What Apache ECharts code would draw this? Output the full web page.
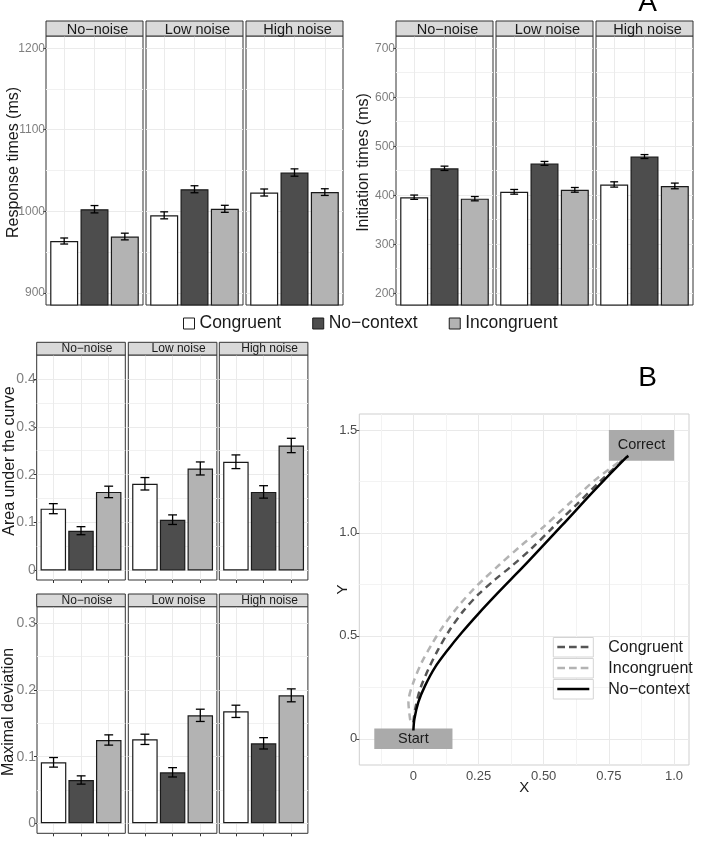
<!DOCTYPE html>
<html><head><meta charset="utf-8">
<script src="https://cdn.jsdelivr.net/npm/echarts@6/dist/echarts.min.js"></script>
<style>html,body{margin:0;padding:0;background:#fff}#c{width:701px;height:846px}</style>
</head><body><div id="c"></div>
<script>
// ---------- DATA ----------
const noiseLevels = ['No−noise', 'Low noise', 'High noise'];
const contexts = ['Congruent', 'No−context', 'Incongruent'];

// Response times (ms) per noise level
const rtCongruent   = [963.5, 995, 1023];
const rtNoContext   = [1002.5, 1027, 1047.5];
const rtIncongruent = [969, 1003, 1023.5];
const rtSeCongruent   = [3.7, 4.3, 4.3];
const rtSeNoContext   = [4.5, 4.3, 4.5];
const rtSeIncongruent = [4.1, 4.3, 4.1];

// Initiation times (ms)
const itCongruent   = [396, 407, 422];
const itNoContext   = [455, 465, 479];
const itIncongruent = [393, 411, 419];
const itSeCongruent   = [4.4, 4.8, 5.4];
const itSeNoContext   = [4.4, 4.0, 4.0];
const itSeIncongruent = [4.4, 4.8, 5.8];

// Area under the curve
const aucCongruent   = [0.129, 0.181, 0.227];
const aucNoContext   = [0.083, 0.106, 0.164];
const aucIncongruent = [0.164, 0.213, 0.261];
const aucSeCongruent   = [0.0105, 0.013, 0.0143];
const aucSeNoContext   = [0.0084, 0.010, 0.013];
const aucSeIncongruent = [0.012, 0.0136, 0.015];

// Maximal deviation
const mdCongruent   = [0.0915, 0.126, 0.168];
const mdNoContext   = [0.065, 0.0765, 0.12];
const mdIncongruent = [0.125, 0.162, 0.192];
const mdSeCongruent   = [0.0072, 0.0077, 0.0092];
const mdSeNoContext   = [0.0062, 0.007, 0.0085];
const mdSeIncongruent = [0.0077, 0.0092, 0.0097];

// Mean trajectories (panel B)
const trajCongruentX   = [0, 0.007, 0.026, 0.058, 0.096, 0.141, 0.192, 0.25, 0.314, 0.378, 0.45, 0.53, 0.62, 0.72, 0.823];
const trajCongruentY   = [0.08, 0.145, 0.242, 0.339, 0.435, 0.532, 0.621, 0.702, 0.774, 0.84, 0.92, 1.02, 1.13, 1.255, 1.376];
const trajIncongruentX = [-0.012, -0.019, 0, 0.032, 0.071, 0.115, 0.173, 0.23, 0.269, 0.33, 0.41, 0.5, 0.6, 0.7, 0.823];
const trajIncongruentY = [0.09, 0.178, 0.274, 0.371, 0.46, 0.548, 0.645, 0.726, 0.774, 0.845, 0.935, 1.03, 1.145, 1.26, 1.376];
const trajNoContextX   = [0, 0.004, 0.019, 0.045, 0.083, 0.134, 0.186, 0.25, 0.314, 0.378, 0.441, 0.57, 0.697, 0.813, 0.825];
const trajNoContextY   = [0.04, 0.097, 0.178, 0.258, 0.347, 0.435, 0.516, 0.608, 0.695, 0.779, 0.862, 1.036, 1.21, 1.362, 1.374];
const trajLegendNames  = ['Congruent', 'Incongruent', 'No−context'];

// Start / Correct boxes (data coordinates)
const targetNames = ['Start', 'Correct'];
const targetX0 = [-0.15, 0.75];
const targetX1 = [0.15, 1.0];
const targetY0 = [-0.05, 1.35];
const targetY1 = [0.05, 1.5];

// Tick labels
const rtTicks  = [900, 1000, 1100, 1200];
const itTicks  = [200, 300, 400, 500, 600, 700];
const aucTicks = [0, 0.1, 0.2, 0.3, 0.4];
const mdTicks  = [0, 0.1, 0.2, 0.3];
const barXTicks = [1, 2, 3];
const trajXTicks = [0, 0.25, 0.5, 0.75, 1.0];
const trajXTickLabels = ['0', '0.25', '0.50', '0.75', '1.0'];
const trajXMinorTicks = [-0.125, 0.125, 0.375, 0.625, 0.875];
const trajYTicks = [0, 0.5, 1.0, 1.5];
const trajYTickLabels = ['0', '0.5', '1.0', '1.5'];

// ---------- STYLE / LAYOUT ----------
const FONT = 'Liberation Sans, Arial, Helvetica, sans-serif';
const barColors = ['#ffffff', '#4d4d4d', '#b3b3b3'];
const rows = [
  {title:'Response times (ms)', means:[rtCongruent, rtNoContext, rtIncongruent], ses:[rtSeCongruent, rtSeNoContext, rtSeIncongruent], ticks:rtTicks,
   lefts:[46,146,246], width:97, top:36, height:269, stripTop:21, stripH:15, min:885, max:1215, splitNumber:3,
   labelSize:12, barW:28, cap:0.13, nameGap:24.5, shift:16, stripFont:14.5, stripDx:3, stripDy:1, xTicks:false, fmt:v=>String(Math.round(v))},
  {title:'Initiation times (ms)', means:[itCongruent, itNoContext, itIncongruent], ses:[itSeCongruent, itSeNoContext, itSeIncongruent], ticks:itTicks,
   lefts:[396,496,596], width:97, top:36, height:269, stripTop:21, stripH:15, min:176, max:725, splitNumber:5,
   labelSize:12, barW:28, cap:0.13, nameGap:24, shift:16, stripFont:14.5, stripDx:3, stripDy:1, xTicks:false, fmt:v=>String(Math.round(v))},
  {title:'Area under the curve', means:[aucCongruent, aucNoContext, aucIncongruent], ses:[aucSeCongruent, aucSeNoContext, aucSeIncongruent], ticks:aucTicks,
   lefts:[36.7,128.3,219.3], width:88.6, top:355, height:225, stripTop:342.3, stripH:12.7, min:-0.02, max:0.45, splitNumber:5,
   labelSize:14, barW:25.5, cap:0.16, nameGap:19, shift:13, stripFont:12, stripDx:6, stripDy:0, xTicks:true, fmt:v=>v===0?'0':v.toFixed(1)},
  {title:'Maximal deviation', means:[mdCongruent, mdNoContext, mdIncongruent], ses:[mdSeCongruent, mdSeNoContext, mdSeIncongruent], ticks:mdTicks,
   lefts:[36.7,128.3,219.3], width:88.6, top:606.7, height:226.6, stripTop:594, stripH:12.7, min:-0.015, max:0.325, splitNumber:3,
   labelSize:14, barW:25.5, cap:0.16, nameGap:20, shift:16, stripFont:12, stripDx:6, stripDy:0, xTicks:true, fmt:v=>v===0?'0':v.toFixed(1)}
];

function isTick(list, v){ return list.some(t => Math.abs(t - v) < 1e-9); }

function errRender(cap){
  return function(params, api){
    const x = api.value(0), m = api.value(1), s = api.value(2);
    const top = api.coord([x, m + s]), bot = api.coord([x, m - s]);
    const l = api.coord([x - cap, m])[0], r = api.coord([x + cap, m])[0];
    const style = {stroke:'#000', lineWidth:1.3, fill:null};
    return {type:'group', children:[
      {type:'line', shape:{x1:top[0], y1:top[1], x2:bot[0], y2:bot[1]}, style},
      {type:'line', shape:{x1:l, y1:top[1], x2:r, y2:top[1]}, style},
      {type:'line', shape:{x1:l, y1:bot[1], x2:r, y2:bot[1]}, style}
    ]};
  };
}

const grids = [], xAxes = [], yAxes = [], series = [], graphics = [];

rows.forEach((row, r) => {
  row.lefts.forEach((left, p) => {
    const gi = r * 3 + p;
    const first = p === 0;
    grids.push({left, top:row.top, width:row.width, height:row.height, show:true, borderColor:'#333333', borderWidth:1, backgroundColor:'#ffffff'});
    xAxes.push({type:'value', gridIndex:gi, min:0.4, max:3.6, splitNumber:3,
      axisLine:{show:false, onZero:false}, axisLabel:{show:false},
      axisTick:{show:row.xTicks, length:3, customValues:barXTicks, lineStyle:{color:'#333333'}},
      splitLine:{show:true, lineStyle:{color:'#ebebeb', width:1}}});
    yAxes.push({type:'value', gridIndex:gi, min:row.min, max:row.max, splitNumber:row.splitNumber,
      name:first ? row.title : '', nameLocation:'middle', nameGap:row.nameGap, nameRotate:90, nameMoveOverlap:false,
      nameTextStyle:{fontSize:16, color:'#1a1a1a', fontFamily:FONT, padding:[0,0,0,row.shift]},
      axisLine:{show:false, onZero:false},
      axisTick:{show:first, length:3, customValues:row.ticks, lineStyle:{color:'#333333'}},
      axisLabel:{show:first, customValues:row.ticks, margin:1, fontSize:row.labelSize, color:'#7f7f7f', fontFamily:FONT,
        formatter:v => isTick(row.ticks, v) ? row.fmt(v) : ''},
      splitLine:{show:true, lineStyle:{color:'#ebebeb', width:1}},
      minorTick:{show:false, splitNumber:2},
      minorSplitLine:{show:true, lineStyle:{color:'#f1f1f1', width:1}}});
    contexts.forEach((name, k) => {
      series.push({type:'bar', name, xAxisIndex:gi, yAxisIndex:gi, barWidth:row.barW, barGap:'-100%', silent:true, z:2,
        itemStyle:{color:barColors[k], borderColor:'#1a1a1a', borderWidth:1.2},
        data:[[k + 1, row.means[k][p]]]});
    });
    series.push({type:'custom', xAxisIndex:gi, yAxisIndex:gi, z:3, silent:true, renderItem:errRender(row.cap),
      data:contexts.map((_, k) => [k + 1, row.means[k][p], row.ses[k][p]])});
    graphics.push({type:'rect', shape:{x:left, y:row.stripTop, width:row.width, height:row.stripH},
      style:{fill:'#d9d9d9', stroke:'#333333', lineWidth:1}, z:5});
    graphics.push({type:'text', z:6, style:{text:noiseLevels[p], x:left + row.width / 2 + row.stripDx, y:row.stripTop + row.stripH / 2 + row.stripDy,
      align:'center', verticalAlign:'middle', fontSize:row.stripFont, fontFamily:FONT, fill:'#1a1a1a'}});
  });
});

// ---------- PANEL B ----------
const gB = grids.length;
grids.push({left:359.3, top:414, width:329.7, height:351, show:true, borderColor:'#cfcfcf', borderWidth:1, backgroundColor:'#ffffff'});
const xB = xAxes.length;
xAxes.push({type:'value', gridIndex:gB, min:-0.2075, max:1.0575,
  name:'X', nameLocation:'middle', nameGap:15, nameMoveOverlap:false, nameTextStyle:{fontSize:15, color:'#1a1a1a', fontFamily:FONT},
  axisLine:{show:false, onZero:false}, axisTick:{show:false, customValues:trajXTicks},
  axisLabel:{customValues:trajXTicks, margin:5, fontSize:13, color:'#4d4d4d', fontFamily:FONT,
    formatter:v => { const i = trajXTicks.findIndex(t => Math.abs(t - v) < 1e-9); return i >= 0 ? trajXTickLabels[i] : ''; }},
  splitLine:{show:true, lineStyle:{color:'#e9e9e9', width:1}}});
xAxes.push({type:'value', gridIndex:gB, min:-0.2075, max:1.0575,
  axisLine:{show:false, onZero:false}, axisLabel:{show:false}, axisTick:{show:false, customValues:trajXMinorTicks},
  splitLine:{show:true, lineStyle:{color:'#f3f3f3', width:1}}});
const yB = yAxes.length;
yAxes.push({type:'value', gridIndex:gB, min:-0.1275, max:1.5775, splitNumber:3,
  name:'Y', nameLocation:'middle', nameGap:9, nameRotate:90, nameMoveOverlap:false, nameTextStyle:{fontSize:15, color:'#1a1a1a', fontFamily:FONT},
  axisLine:{show:false, onZero:false}, axisTick:{show:true, length:3, customValues:trajYTicks, lineStyle:{color:'#4d4d4d'}},
  axisLabel:{customValues:trajYTicks, margin:2, fontSize:13, color:'#4d4d4d', fontFamily:FONT,
    formatter:v => { const i = trajYTicks.findIndex(t => Math.abs(t - v) < 1e-9); return i >= 0 ? trajYTickLabels[i] : ''; }},
  splitLine:{show:true, lineStyle:{color:'#e9e9e9', width:1}},
  minorTick:{show:false, splitNumber:2},
  minorSplitLine:{show:true, lineStyle:{color:'#f3f3f3', width:1}}});

series.push({type:'custom', xAxisIndex:xB, yAxisIndex:yB, z:1, silent:true,
  data:targetNames.map((n, i) => [targetX0[i], targetX1[i], targetY0[i], targetY1[i]]),
  renderItem:(params, api) => {
    const p0 = api.coord([api.value(0), api.value(3)]);
    const p1 = api.coord([api.value(1), api.value(2)]);
    return {type:'group', children:[
      {type:'rect', shape:{x:p0[0], y:p0[1], width:p1[0] - p0[0], height:p1[1] - p0[1]}, style:{fill:'#aaaaaa'}},
      {type:'text', style:{text:targetNames[params.dataIndex], x:(p0[0] + p1[0]) / 2, y:(p0[1] + p1[1]) / 2,
        align:'center', verticalAlign:'middle', fontSize:14.5, fontFamily:FONT, fill:'#1a1a1a'}}
    ]};
  }});

const trajSets = [
  {name:'Congruent', xs:trajCongruentX, ys:trajCongruentY, color:'#555555', dash:[7, 5]},
  {name:'Incongruent', xs:trajIncongruentX, ys:trajIncongruentY, color:'#b3b3b3', dash:[7, 5]},
  {name:'No−context', xs:trajNoContextX, ys:trajNoContextY, color:'#000000', dash:'solid'}
];
trajSets.forEach(t => {
  series.push({type:'line', name:t.name, xAxisIndex:xB, yAxisIndex:yB, z:3, silent:true,
    symbol:'none', showSymbol:false, smooth:0.3,
    lineStyle:{color:t.color, width:2.5, type:t.dash},
    data:t.xs.map((x, i) => [x, t.ys[i]])});
});

// Panel B legend (boxed keys)
const legBoxY = [637.5, 658.5, 679.5];
trajSets.forEach((t, i) => {
  graphics.push({type:'rect', z:5, shape:{x:553.3, y:legBoxY[i], width:40, height:19.5}, style:{fill:'#ffffff', stroke:'#d4d4d4', lineWidth:1}});
  graphics.push({type:'line', z:6, shape:{x1:557.3, y1:legBoxY[i] + 9.5, x2:589.3, y2:legBoxY[i] + 9.5},
    style:{stroke:t.color, lineWidth:2.4, lineDash:t.dash === 'solid' ? null : [7.7, 4]}});
  graphics.push({type:'text', z:6, style:{text:trajLegendNames[i], x:608.3, y:legBoxY[i] + 10, align:'left', verticalAlign:'middle',
    fontSize:16, fontFamily:FONT, fill:'#1a1a1a'}});
});

// Panel letters
graphics.push({type:'text', z:6, style:{text:'A', x:647.5, y:3, align:'center', verticalAlign:'middle', fontSize:28, fontFamily:FONT, fill:'#000'}});
graphics.push({type:'text', z:6, style:{text:'B', x:647.5, y:378, align:'center', verticalAlign:'middle', fontSize:28, fontFamily:FONT, fill:'#000'}});

const option = {
  animation:false,
  backgroundColor:'#ffffff',
  textStyle:{fontFamily:FONT},
  grid:grids, xAxis:xAxes, yAxis:yAxes, series,
  legend:{left:183, top:314.5, padding:0, icon:'rect', itemWidth:11, itemHeight:11, itemGap:31, selectedMode:false,
    textStyle:{fontSize:17.5, color:'#1a1a1a', fontFamily:FONT},
    data:contexts.map((n, i) => ({name:n, itemStyle:{color:barColors[i], borderColor:'#1a1a1a', borderWidth:1}}))},
  graphic:graphics
};
const chart = echarts.init(document.getElementById('c'), null, {renderer:'canvas'});
chart.setOption(option);
</script></body></html>
